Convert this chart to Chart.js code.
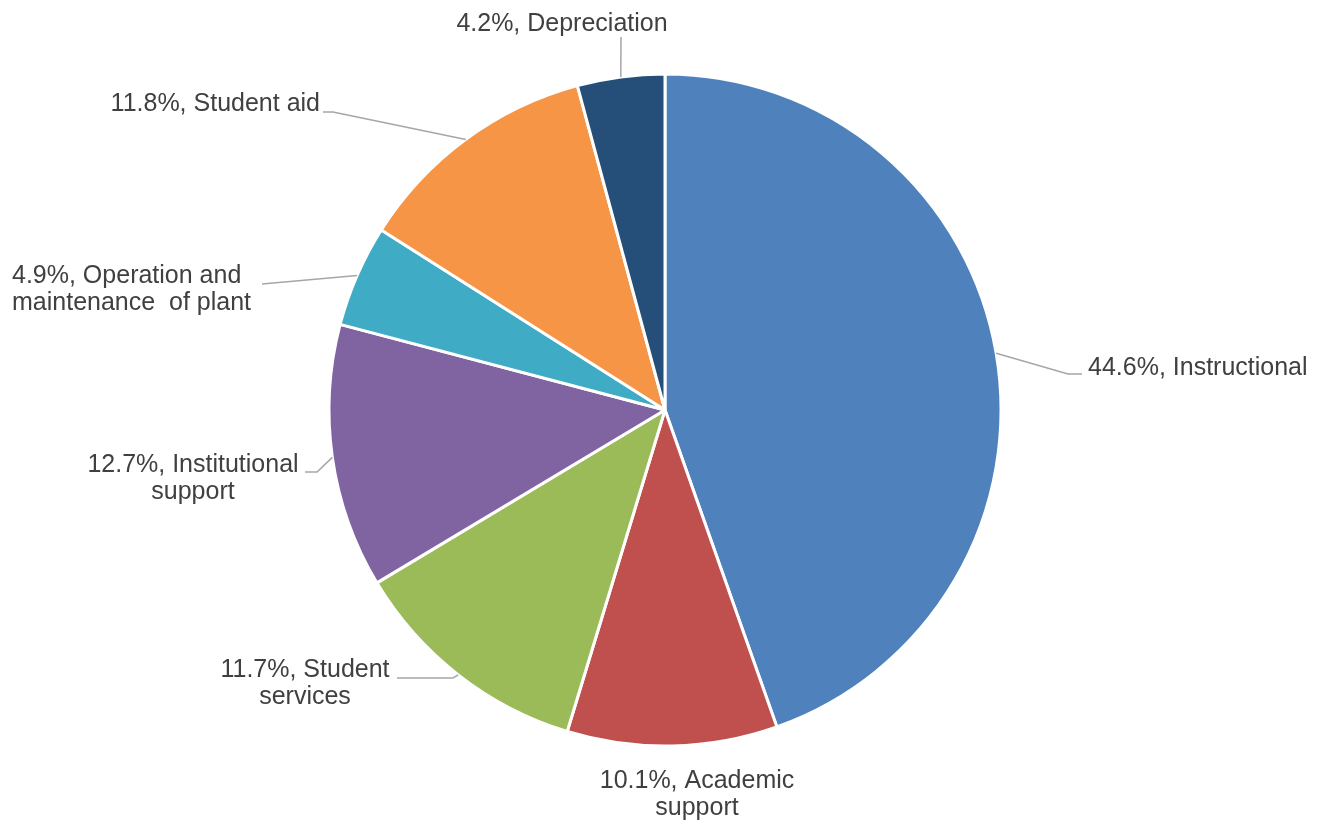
<!DOCTYPE html>
<html>
<head>
<meta charset="utf-8">
<script src="https://cdn.jsdelivr.net/npm/chart.js@4/dist/chart.umd.min.js"></script>
<style>
  html, body { margin: 0; padding: 0; background: #ffffff; }
  #wrap { width: 1325px; height: 822px; position: relative; }
</style>
</head>
<body>
<div id="wrap"><canvas id="c" width="1325" height="822"></canvas></div>
<script>
// ---- Data ----
const categories = [
  'Instructional',
  'Academic support',
  'Student services',
  'Institutional support',
  'Operation and maintenance  of plant',
  'Student aid',
  'Depreciation'
];
const percentValues = [44.6, 10.1, 11.7, 12.7, 4.9, 11.8, 4.2];
// number of words on the first label line (0 = no line break)
const firstLineWords = [0, 2, 2, 2, 3, 0, 0];
const sliceColors = ['#4F81BD', '#C0504D', '#9BBB59', '#8064A2', '#3FABC5', '#F69546', '#254E78'];

// ---- Label layout (positions of label text and leader elbows) ----
const labelLayout = [
  { align: 'left',   x: 1088, y: 375, path: [[1068, 374], [1082, 374]] },
  { align: 'center', x: 697,  y: 788, path: null },
  { align: 'center', x: 305,  y: 677, path: [[453, 678], [397, 678]] },
  { align: 'center', x: 193,  y: 472, path: [[317, 472], [305, 472]] },
  { align: 'left',   x: 12,   y: 283, path: [[262, 284]] },
  { align: 'right',  x: 320,  y: 111, path: [[333, 112], [323, 112]] },
  { align: 'center', x: 562,  y: 31,  path: [[621, 37]] }
];

function labelLines(i) {
  const text = percentValues[i].toFixed(1) + '%, ' + categories[i];
  const n = firstLineWords[i];
  if (!n) return [text];
  const words = text.split(' ');
  // keep double spaces intact by splitting on first n single-space boundaries
  let idx = 0, count = 0;
  while (count < n) { idx = text.indexOf(' ', idx) + 1; count++; }
  return [text.slice(0, idx - 1), text.slice(idx)];
}

const pieLabels = {
  id: 'pieLabels',
  afterDatasetsDraw(chart) {
    const ctx = chart.ctx;
    const meta = chart.getDatasetMeta(0);
    ctx.save();
    meta.data.forEach((arc, i) => {
      const L = labelLayout[i];
      const p = arc.getProps(['x', 'y', 'startAngle', 'endAngle', 'outerRadius'], true);
      const mid = (p.startAngle + p.endAngle) / 2;
      const ax = p.x + Math.cos(mid) * p.outerRadius;
      const ay = p.y + Math.sin(mid) * p.outerRadius;
      if (L.path) {
        ctx.beginPath();
        ctx.strokeStyle = '#A6A6A6';
        ctx.lineWidth = 1.5;
        ctx.moveTo(ax, ay);
        L.path.forEach(pt => ctx.lineTo(pt[0], pt[1]));
        ctx.stroke();
      }
      ctx.fillStyle = '#404040';
      ctx.font = '25px "Liberation Sans", Arial, sans-serif';
      ctx.textBaseline = 'alphabetic';
      const lines = labelLines(i);
      if (L.align === 'center') {
        ctx.textAlign = 'center';
        lines.forEach((s, k) => ctx.fillText(s, L.x, L.y + k * 27));
      } else if (L.align === 'left') {
        ctx.textAlign = 'left';
        lines.forEach((s, k) => ctx.fillText(s, L.x, L.y + k * 27));
      } else {
        ctx.textAlign = 'right';
        lines.forEach((s, k) => ctx.fillText(s, L.x, L.y + k * 27));
      }
    });
    ctx.restore();
  }
};

new Chart(document.getElementById('c'), {
  type: 'pie',
  data: {
    labels: categories,
    datasets: [{
      data: percentValues,
      backgroundColor: sliceColors,
      borderColor: '#ffffff',
      borderWidth: 3,
      hoverOffset: 0,
      offset: 0
    }]
  },
  options: {
    responsive: false,
    animation: false,
    radius: 336,
    layout: { padding: { top: 74, bottom: 76, left: 300, right: 295 } },
    plugins: {
      legend: { display: false },
      tooltip: { enabled: false }
    },
    events: []
  },
  plugins: [pieLabels]
});
</script>
</body>
</html>
